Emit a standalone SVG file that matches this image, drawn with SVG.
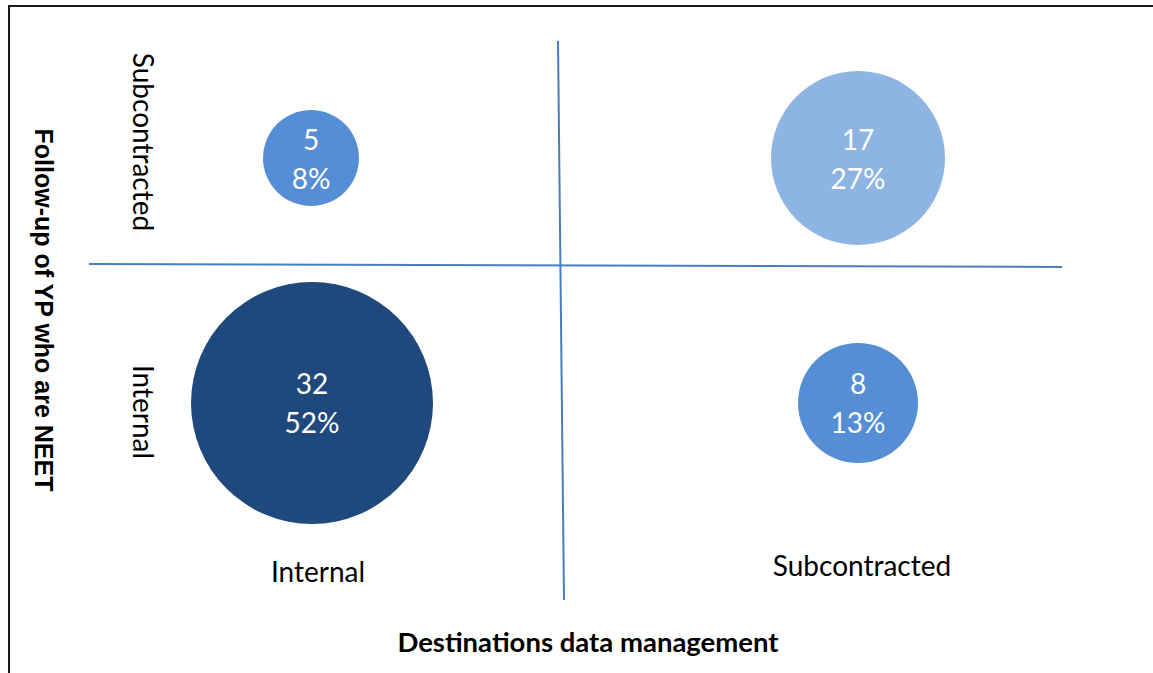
<svg xmlns="http://www.w3.org/2000/svg" width="1153" height="673" viewBox="0 0 1153 673">
<style>
.lbl{font-family:Lato,"Open Sans",sans-serif;font-size:28px;fill:#000;text-anchor:middle}
.val{font-family:Lato,"Open Sans",sans-serif;font-size:28px;fill:#fff;text-anchor:middle}
.ttl{font-family:Lato,"Open Sans",sans-serif;font-size:27.5px;font-weight:bold;fill:#000;text-anchor:middle}
.ytl{font-family:"Liberation Sans",Arial,sans-serif;font-size:25px;font-weight:bold;fill:#000;text-anchor:middle}
.axis{stroke:#4A7EBB;stroke-width:2;fill:none}
</style>
<rect width="1153" height="673" fill="#fff"/>
<path d="M9,673 V6 H1153" fill="none" stroke="#1a1a1a" stroke-width="2"/>
<g id="connectors">
<line class="axis" x1="89" y1="264" x2="1062" y2="267"/>
<line class="axis" x1="558" y1="41" x2="564" y2="600"/>
</g>
<g id="node-int-sub">
<circle cx="311" cy="158" r="48" fill="#558ED5"/>
<text class="val" x="311" y="150">5</text>
<text class="val" x="311" y="189">8%</text>
</g>
<g id="node-sub-sub">
<circle cx="858" cy="158" r="87" fill="#8EB4E3"/>
<text class="val" x="858" y="150">17</text>
<text class="val" x="858" y="189">27%</text>
</g>
<g id="node-int-int">
<circle cx="312" cy="403" r="121" fill="#1F497D"/>
<text class="val" x="312" y="394">32</text>
<text class="val" x="312" y="433">52%</text>
</g>
<g id="node-sub-int">
<circle cx="858" cy="403" r="60" fill="#558ED5"/>
<text class="val" x="858" y="394">8</text>
<text class="val" x="858" y="433">13%</text>
</g>
<g id="labels">
<text class="lbl" transform="translate(133,142) rotate(90)">Subcontracted</text>
<text class="lbl" transform="translate(133,412) rotate(90)">Internal</text>
<text class="lbl" x="318" y="582">Internal</text>
<text class="lbl" x="862" y="576">Subcontracted</text>
<text class="ttl" x="588" y="652">Destinations data management</text>
<text class="ytl" transform="translate(35,310) rotate(90)">Follow-up of YP who are NEET</text>
</g>
</svg>
